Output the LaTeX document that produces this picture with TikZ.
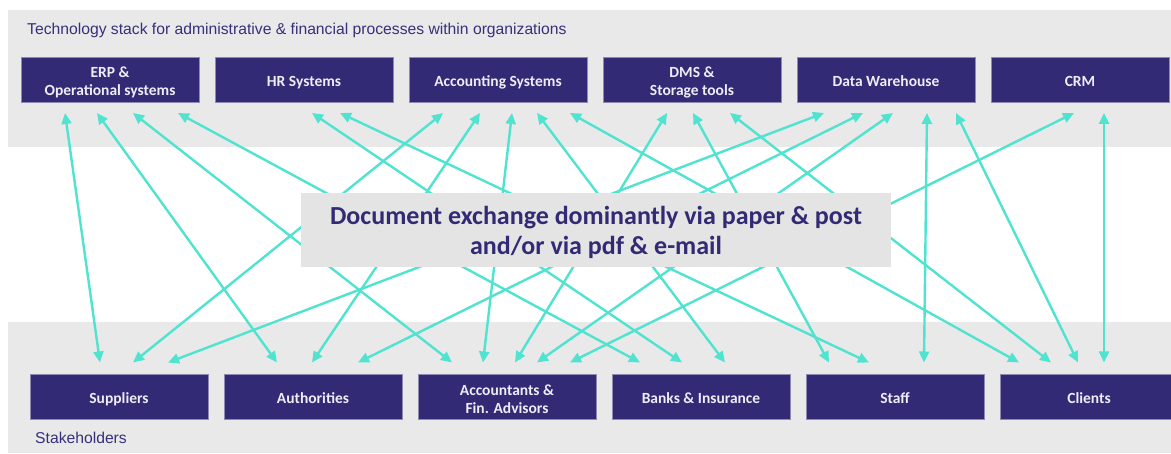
\documentclass[tikz,border=0pt]{standalone}
\usepackage{fontspec}
\setmainfont{Carlito}
\newfontfamily\arialfont{Liberation Sans}
\usetikzlibrary{arrows.meta, positioning}
\definecolor{stackpurple}{RGB}{50,42,116}
\definecolor{boxtext}{RGB}{238,236,246}
\definecolor{titlepurple}{RGB}{55,48,122}
\definecolor{bandgray}{RGB}{233,233,233}
\definecolor{exchangegray}{RGB}{228,228,228}
\definecolor{linkturquoise}{RGB}{80,227,208}
\newcommand{\boxtopstrut}{\rule{0pt}{19pt}}
\newcommand{\boxbotstrut}{\rule[-5pt]{0pt}{5pt}}
\newcommand{\exchangetopstrut}{\rule{0pt}{23.5pt}}
\newcommand{\exchangebotstrut}{\rule[-5.2pt]{0pt}{5.2pt}}
\tikzset{stackbox/.style={rectangle, fill=stackpurple, draw=stackpurple!55!white, line width=0.6pt, outer sep=0pt, minimum width=178pt, minimum height=45pt, inner sep=0pt, text=boxtext, align=center, font=\fontsize{15.5}{18}\selectfont\bfseries, execute at begin node=\boxtopstrut, execute at end node=\boxbotstrut},link/.style={linkturquoise, line width=2.4pt, {Triangle[length=11pt, width=10pt]}-{Triangle[length=11pt, width=10pt]}}}

\begin{document}
\begin{tikzpicture}[
        x=1pt, y=1pt,
        bandtext/.style={anchor=west, inner sep=0pt, text=titlepurple, font=\arialfont\fontsize{15.7}{18}\selectfont}
    ]
        \clip (0,0) rectangle (1171,453);
        % Bands
        \fill[bandgray] (8,306) rectangle (1171,443);
        \fill[bandgray] (8,0) rectangle (1171,131);
        \node[bandtext] (stacktitle) at (27,423) {Technology stack for administrative \& financial processes within organizations};
        \node[bandtext] (holdertitle) at (35,15) {Stakeholders};
        % Technology stack
        \node[stackbox] (erp) at (110,373.5) {\boxtopstrut ERP \&\\Operational systems\boxbotstrut};
        \node[stackbox, right=16pt of erp] (hr) {HR Systems};
        \node[stackbox, right=16pt of hr] (acc) {Accounting Systems};
        \node[stackbox, right=16pt of acc] (dms) {\boxtopstrut DMS \&\\Storage tools\boxbotstrut};
        \node[stackbox, right=16pt of dms] (dw) {Data Warehouse};
        \node[stackbox, right=16pt of dw] (crm) {CRM};
        % Stakeholders
        \node[stackbox] (sup) at (119,56) {Suppliers};
        \node[stackbox, right=16pt of sup] (auth) {Authorities};
        \node[stackbox, right=16pt of auth] (advisors) {\boxtopstrut Accountants \&\\Fin. Advisors\boxbotstrut};
        \node[stackbox, right=16pt of advisors] (banks) {Banks \& Insurance};
        \node[stackbox, right=16pt of banks] (staff) {Staff};
        \node[stackbox, right=16pt of staff] (clients) {Clients};
        % Links
        \foreach \from/\fx/\to/\tx in {
            erp/44/sup/70,
            erp/76/auth/53,
            erp/112/advisors/34,
            erp/157/banks/28,
            hr/97/banks/70,
            hr/125/staff/63,
            acc/34/sup/103,
            acc/71/auth/88,
            acc/103/advisors/65,
            acc/128/banks/113,
            acc/161/clients/19,
            dms/64/advisors/97,
            dms/90/staff/23,
            dms/127/clients/51,
            dw/27/sup/138,
            dw/66/auth/134,
            dw/96/advisors/119,
            dw/130/staff/118,
            dw/159/clients/78,
            crm/83/advisors/152,
            crm/113/clients/104} {
            \draw[link] ([xshift=\fx pt, yshift=-11pt]\from.south west) -- ([xshift=\tx pt, yshift=12pt]\to.north west);
        }
        % Exchange
        \node[fill=exchangegray, minimum width=590pt, minimum height=74pt, inner sep=0pt, align=center, text=stackpurple, font=\fontsize{26}{30}\selectfont\bfseries] (exchange) at (596,223) {\exchangetopstrut Document exchange dominantly via paper \& post\\and/or via pdf \& e-mail\exchangebotstrut};
    \end{tikzpicture}
\end{document}
